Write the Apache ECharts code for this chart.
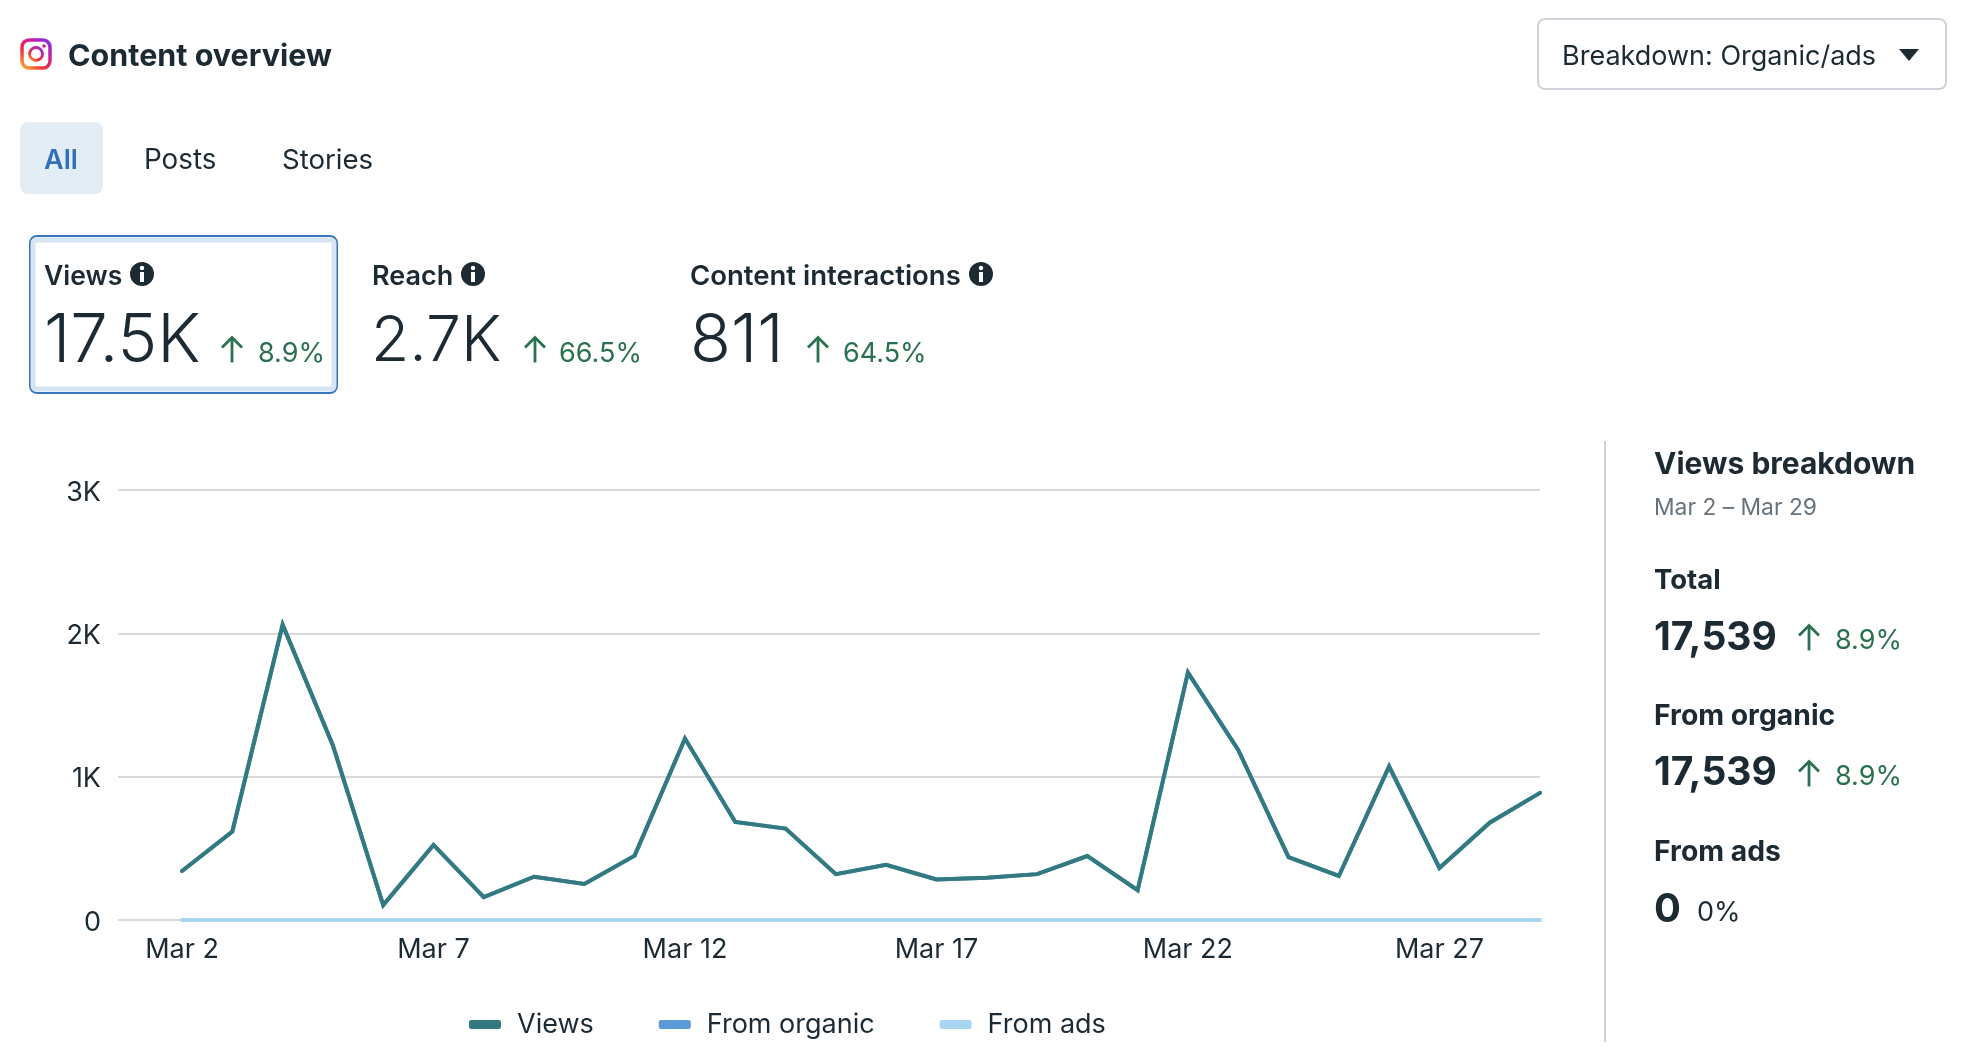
<!DOCTYPE html>
<html>
<head>
<meta charset="utf-8">
<style>html,body{margin:0;padding:0;background:#fff}#c{width:1968px;height:1060px}</style>
<script src="https://cdn.jsdelivr.net/npm/echarts@6/dist/echarts.min.js"></script>
</head>
<body>
<div id="c"></div>
<script>
const days = [2,3,4,5,6,7,8,9,10,11,12,13,14,15,16,17,18,19,20,21,22,23,24,25,26,27,28,29];
const viewsValues = [342,617,2060,1218,104,524,160,302,251,449,1266,684,638,320,385,283,294,320,446,208,1726,1186,438,307,1071,363,679,887];
const organicValues = [342,617,2060,1218,104,524,160,302,251,449,1266,684,638,320,385,283,294,320,446,208,1726,1186,438,307,1071,363,679,887];
const adsValues = [0,0,0,0,0,0,0,0,0,0,0,0,0,0,0,0,0,0,0,0,0,0,0,0,0,0,0,0];
const xTickDays = [2,7,12,17,22,27];
const seriesNames = ['Views','From organic','From ads'];

const FONT = 'Inter, "Noto Sans", sans-serif';
const DARK = '#1c2b33', GREEN = '#2a7150', GREY = '#67737c';
const pairs = vals => days.map((d,i)=>[d,vals[i]]);
const chart = echarts.init(document.getElementById('c'));

const txt = (s,x,y,size,weight,color,align) => ({type:'text',x,y,silent:true,style:{text:s,fontFamily:FONT,fontSize:size,fontWeight:weight||400,fill:color||DARK,align:align||'left',verticalAlign:'middle'}});
const arrow = (x,y,h) => ({type:'polyline',silent:true,shape:{points:[[x,y+h/2],[x,y-h/2]]},style:{stroke:GREEN,lineWidth:2.8,fill:null}});
const head = (x,y,h) => ({type:'polyline',silent:true,shape:{points:[[x-10,y-h/2+10],[x,y-h/2],[x+10,y-h/2+10]]},style:{stroke:GREEN,lineWidth:2.8,fill:null}});
const up = (x,y,h) => [arrow(x,y,h),head(x,y,h)];
const info = (x,y) => [
  {type:'circle',silent:true,shape:{cx:x,cy:y,r:12},style:{fill:DARK}},
  {type:'circle',silent:true,shape:{cx:x,cy:y-6,r:2.2},style:{fill:'#fff'}},
  {type:'rect',silent:true,shape:{x:x-2,y:y-2,width:4,height:10},style:{fill:'#fff'}}
];
const igGrad = {type:'linear',x:0.1,y:1,x2:0.9,y2:0,colorStops:[{offset:0,color:'#fdb32b'},{offset:0.35,color:'#f0303c'},{offset:0.7,color:'#c71fa4'},{offset:1,color:'#7a2ff0'}]};

const graphics = [
  {type:'rect',silent:true,shape:{x:22,y:40,width:28,height:28,r:7},style:{fill:'#fff',stroke:igGrad,lineWidth:3.5}},
  {type:'circle',silent:true,shape:{cx:36,cy:54,r:6.5},style:{fill:'#fff',stroke:igGrad,lineWidth:2.8}},
  {type:'circle',silent:true,shape:{cx:44,cy:46,r:1.8},style:{fill:'#c71fa4'}},
  txt('Content overview',68,57,30.5,650),

  {type:'rect',silent:true,shape:{x:1538,y:19,width:408,height:70,r:7},style:{fill:'#fff',stroke:'#ced3d9',lineWidth:2}},
  txt('Breakdown: Organic/ads',1562,57,27,400),
  {type:'polygon',silent:true,shape:{points:[[1899,49],[1919,49],[1909,61]]},style:{fill:DARK}},

  {type:'rect',silent:true,shape:{x:20,y:122,width:83,height:72,r:8},style:{fill:'#e3edf6'}},
  txt('All',44,161,27,600,'#3470b8'),
  txt('Posts',144,161,27.8,400),
  txt('Stories',282,161,27.6,400),

  {type:'rect',silent:true,shape:{x:30,y:236,width:307,height:157,r:7},style:{fill:'#fff',stroke:'#3a76bd',lineWidth:2}},
  {type:'rect',silent:true,shape:{x:33,y:240,width:301,height:149,r:3},style:{fill:'none',stroke:'#d6e5f4',lineWidth:5}},

  txt('Views',44,277,26.5,600),
  ...info(142,274),
  txt('17.5K',44,342,67,300),
  ...up(232,350,25),
  txt('8.9%',258,354,27,400,GREEN),

  txt('Reach',372,277,27,600),
  ...info(473,274),
  txt('2.7K',371,342,62.5,300),
  ...up(535,350,25),
  txt('66.5%',559,354,27,400,GREEN),

  txt('Content interactions',690,277,27.5,600),
  ...info(981,274),
  txt('811',690,342,67,300),
  ...up(818,350,25),
  txt('64.5%',843,354,27,400,GREEN),

  {type:'line',silent:true,shape:{x1:1605,y1:441,x2:1605,y2:1042},style:{stroke:'#ced3d9',lineWidth:2}},
  txt('Views breakdown',1654,465,30,650),
  txt('Mar 2 – Mar 29',1654,508,22.8,400,GREY),
  txt('Total',1654,581,27.5,650),
  txt('17,539',1654,638,39,650),
  ...up(1809,638,25),
  txt('8.9%',1835,641,27,400,GREEN),
  txt('From organic',1654,716,28.3,650),
  txt('17,539',1654,773,39,650),
  ...up(1809,774,25),
  txt('8.9%',1835,777,27,400,GREEN),
  txt('From ads',1654,852,28.3,650),
  txt('0',1654,910,40,650),
  txt('0%',1697,913,27,400)
];

const lineSeries = (name,vals,color,z) => ({
  name,type:'line',data:pairs(vals),showSymbol:false,symbol:'none',z,clip:false,silent:true,animation:false,
  lineStyle:{color,width:4,cap:'round',join:'miter'},itemStyle:{color}
});

chart.setOption({
  animation:false,
  backgroundColor:'#fff',
  grid:{left:118,right:428,top:490,bottom:140},
  xAxis:{
    type:'value',min:0.727,max:29,
    splitLine:{show:false},axisLine:{show:false},axisTick:{show:false},
    axisLabel:{customValues:xTickDays,formatter:v=>'Mar '+v,color:DARK,fontFamily:FONT,fontSize:27,margin:16,showMinLabel:true,showMaxLabel:true}
  },
  yAxis:{
    type:'value',min:0,max:3000,interval:1000,
    axisLine:{show:false},axisTick:{show:false},
    splitLine:{lineStyle:{color:'#dadada',width:2}},
    axisLabel:{
      formatter:v=>'{a|'+(v===0?'0':(v/1000)+'K')+'}',margin:17,
      rich:{a:{color:DARK,fontFamily:FONT,fontSize:27,padding:[5,0,0,0]}}
    }
  },
  legend:{
    data:seriesNames,left:469,top:1011,padding:0,icon:'roundRect',itemWidth:32,itemHeight:9,itemGap:65,selectedMode:false,
    textStyle:{color:DARK,fontFamily:FONT,fontSize:27,padding:[0,0,0,11]}
  },
  series:[
    lineSeries('From organic',organicValues,'#5b9bd5',2),
    lineSeries('From ads',adsValues,'#a8d5f2',3),
    lineSeries('Views',viewsValues,'#337a80',4)
  ],
  graphic:graphics
});
</script>
</body>
</html>
